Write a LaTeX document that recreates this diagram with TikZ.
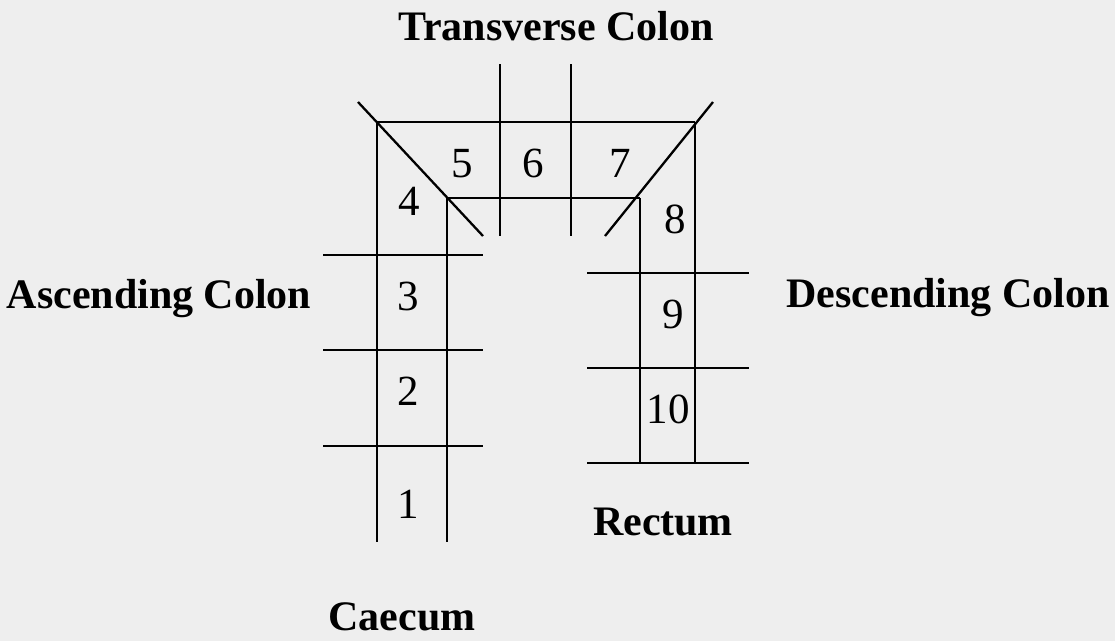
\documentclass[tikz,border=0pt]{standalone}
\usepackage{fontspec}
\setmainfont{Liberation Serif}
\begin{document}
\begin{tikzpicture}[x=1pt,y=-1pt,
  seg/.style={line width=2.3pt,black},
  num/.style={anchor=base,inner sep=0pt,font=\fontsize{43}{43}\selectfont},
  lbl/.style={anchor=base,inner sep=0pt,font=\fontsize{42}{42}\selectfont\bfseries}]
\fill[fill={rgb,255:red,238;green,238;blue,238}] (0,0) rectangle (1115,641);
\useasboundingbox (0,0) rectangle (1115,641);
% main frame
\coordinate (TL) at (377,122);
\coordinate (TR) at (695,122);
\coordinate (IL) at (447,198);
\coordinate (IR) at (640,198);
\coordinate (LB) at (377,542);
\coordinate (ILB) at (447,542);
\coordinate (RB) at (695,463);
\coordinate (IRB) at (640,463);
\draw[seg] (TL) -- (TR);
\draw[seg] (IL) -- (IR);
\draw[seg] (TL) -- (LB);
\draw[seg] (IL) -- (ILB);
\draw[seg] (TR) -- (RB);
\draw[seg] (IR) -- (IRB);
% diagonals
\coordinate (d1a) at (358,102); \coordinate (d1b) at (483,236);
\coordinate (d2a) at (713,102); \coordinate (d2b) at (605,236);
\draw[seg] (d1a) -- (d1b);
\draw[seg] (d2a) -- (d2b);
% transverse dividers
\coordinate (v1a) at (500,64); \coordinate (v1b) at (500,236);
\coordinate (v2a) at (571,64); \coordinate (v2b) at (571,236);
\draw[seg] (v1a) -- (v1b);
\draw[seg] (v2a) -- (v2b);
% left dividers
\foreach \yy/\n in {255/a,350/b,446/c}{
  \coordinate (l\n1) at (323,\yy); \coordinate (l\n2) at (483,\yy);
  \draw[seg] (l\n1) -- (l\n2);
}
% right dividers
\foreach \yy/\n in {273/a,368/b,463/c}{
  \coordinate (r\n1) at (587,\yy); \coordinate (r\n2) at (749,\yy);
  \draw[seg] (r\n1) -- (r\n2);
}
% segment numbers
\node[num] (n1) at (408,518) {1};
\node[num] (n2) at (408,405) {2};
\node[num] (n3) at (408,310) {3};
\node[num] (n4) at (409,215) {4};
\node[num] (n5) at (462,177) {5};
\node[num] (n6) at (533,177) {6};
\node[num] (n7) at (620,177) {7};
\node[num] (n8) at (675,233) {8};
\node[num] (n9) at (673,328) {9};
\node[num] (n10) at (668,423) {10};
% labels
\node[lbl] (tc) at (556,40) {Transverse Colon};
\node[lbl] (ac) at (159,308) {Ascending Colon};
\node[lbl] (dc) at (948,307) {Descending Colon};
\node[lbl] (re) at (663,535) {Rectum};
\node[lbl] (ca) at (402,630) {Caecum};
\end{tikzpicture}
\end{document}
